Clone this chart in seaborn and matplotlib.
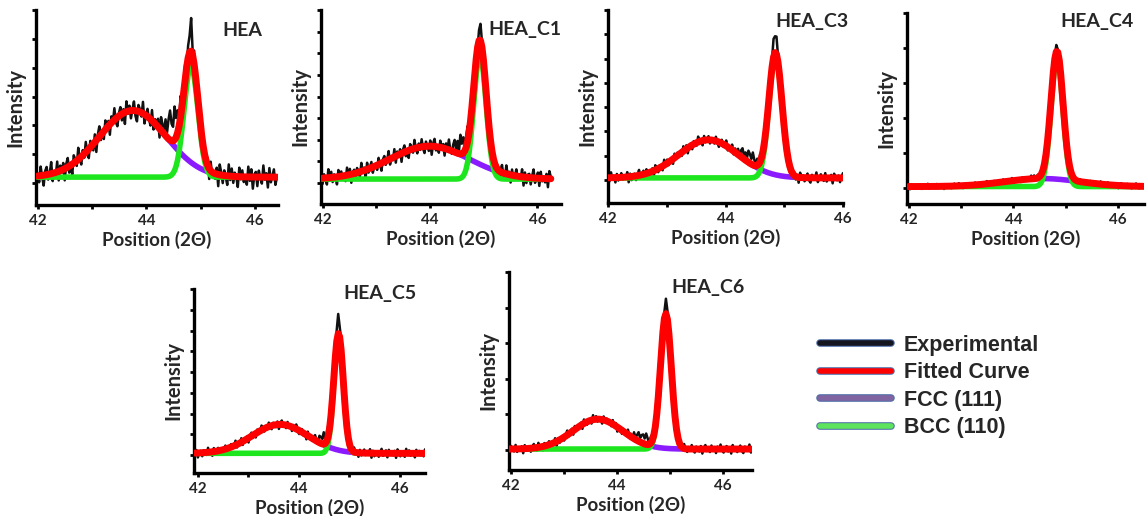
import numpy as np
import pandas as pd
import matplotlib
matplotlib.use("Agg")
import matplotlib.pyplot as plt
import matplotlib.patheffects as pe
from matplotlib.lines import Line2D
import seaborn as sns

# echantillons et parametres de pics (intensite en u.a.)
samples = ['HEA', 'HEA_C1', 'HEA_C3', 'HEA_C4', 'HEA_C5', 'HEA_C6']
x_start = [42.0, 42.0, 42.0, 42.0, 41.95, 41.98]
x_end = [46.40, 46.25, 46.0, 46.48, 46.50, 46.52]
baseline = [6, 4, 2, 1.7, 1.7, 1.0]
fcc_center = [43.75, 43.99, 43.71, 44.55, 43.63, 43.64]
fcc_height = [67, 33, 38, 8, 29, 30]
fcc_fwhm = [1.45, 1.75, 1.2, 1.7, 1.3, 1.1]
bcc_center = [44.82, 44.93, 44.85, 44.83, 44.79, 44.92]
bcc_height = [112, 125, 122, 128, 117, 135]
bcc_fwhm = [0.30, 0.27, 0.26, 0.27, 0.22, 0.24]
# ecarts de la mesure par rapport au fit : epaulement vers 44.5 et pointe au sommet
shoulder_center = [44.50, 44.60, 44.40, 44.50, 44.55, 44.50]
shoulder_height = [22, 12, 8, 2, 8, 8]
spike_height = [22, 11, 19, 5, 16, 13]
noise_scale = [1.3, 0.95, 0.6, 0.3, 0.5, 0.5]
noise_shift = [0, 37, 71, 103, 19, 88]
# bruit de mesure (saisi a la main)
noise = [2, -5, 7, -1, -8, 3, 6, -4, 0, 9, -6, 1, -3, 8, -7, 4, -2, 5, -9, 3,
         7, -5, 1, -8, 6, 2, -4, 9, -1, -6, 4, -3, 8, -2, -7, 5, 0, -5, 6, -9,
         3, 8, -4, 1, -6, 7, -2, 4, -8, 5, -1, 9, -3, -7, 2, 6, -5, 3, -9, 8,
         -2, 4, -6, 1, 7, -4, -8, 5, 2, -3, 9, -7, 0, 6, -1, -5, 8, -6, 3, -2,
         5, -9, 7, 1, -4, 4, -7, 2, 8, -3, -6, 9, -1, 3, -8, 6, -5, 0, 7, -4,
         1, -2, 8, -9, 5, -6, 3, 4, -7, 2, 9, -5, -1, 6, -8, 7, -3, 1, -4, 5,
         -9, 8, 2, -6, 4, -1, -7, 9, -3, 6, -5, 3, 0, -8, 7, -2, 5, -4, 1, -6,
         8, -3, 6, -9, 2, 4, -7, 5, -1, -5, 9, -2, 3, -8, 7, -4, 1, 6, -6, 0]

# mise en page (pixels de la figure 1148x516) et axes
W, H = 1148, 516
boxes = [(36, 278, 10, 205), (321, 561, 10, 204), (608, 843, 10, 203),
         (907, 1144, 13, 204), (194, 425, 289, 473), (509, 752, 272, 470)]
xlims = [(41.97, 46.42), (41.97, 46.44), (42.0, 46.0), (41.97, 46.49), (41.93, 46.5), (41.97, 46.54)]
ylims = [(-22, 174), (-21, 173.6), (-23, 169.4), (-15.7, 175), (-18, 166.4), (-20, 178.5)]
ystep = [29, 21.7, 24.2, 35, 20.8, 35.7]
title_pos = [(242, 30), (525, 30), (812, 22), (1097, 22), (380, 293), (708, 287)]

col_exp, col_fit, col_fcc, col_bcc = '#111111', '#ff0000', '#8b1aff', '#1ee61e'
font = 'Lato'


def gauss(x, c, a, fwhm):
    s = fwhm / 2.3548
    return a * np.exp(-0.5 * ((x - c) / s) ** 2)


sns.set_theme(style='ticks')
plt.rcParams['font.family'] = [font, 'DejaVu Sans']
plt.rcParams['font.weight'] = 'bold'

fig = plt.figure(figsize=(W / 100, H / 100), dpi=100)

for i, name in enumerate(samples):
    l, r, t, b = boxes[i]
    ax = fig.add_axes([l / W, 1 - b / H, (r - l) / W, (b - t) / H])
    x = np.linspace(x_start[i], x_end[i], len(noise))
    fcc = baseline[i] + gauss(x, fcc_center[i], fcc_height[i], fcc_fwhm[i])
    bcc = baseline[i] + gauss(x, bcc_center[i], bcc_height[i], bcc_fwhm[i])
    fit = fcc + bcc - baseline[i]
    exp = (fit + gauss(x, shoulder_center[i], shoulder_height[i], 0.3)
           + gauss(x, bcc_center[i], spike_height[i], 0.09)
           + noise_scale[i] * np.roll(np.array(noise, dtype=float), noise_shift[i]))
    df = pd.DataFrame({'x': x, 'exp': exp, 'fit': fit, 'fcc': fcc, 'bcc': bcc})

    sns.lineplot(data=df, x='x', y='exp', ax=ax, color=col_exp, linewidth=1.8, zorder=1,
                 estimator=None, sort=False)
    sns.lineplot(data=df, x='x', y='fcc', ax=ax, color=col_fcc, linewidth=4.0, zorder=2,
                 estimator=None, sort=False)
    sns.lineplot(data=df, x='x', y='bcc', ax=ax, color=col_bcc, linewidth=4.0, zorder=3,
                 estimator=None, sort=False)
    sns.lineplot(data=df, x='x', y='fit', ax=ax, color=col_fit, linewidth=5.0, zorder=4,
                 estimator=None, sort=False)

    ax.set_xlim(*xlims[i])
    ax.set_ylim(*ylims[i])
    ax.set_xticks([42, 44, 46])
    ax.set_xticks([43, 45], minor=True)
    ax.set_yticks(np.arange(0, ylims[i][1] + 0.5, ystep[i]))
    ax.set_yticklabels([])
    ax.tick_params(which='both', direction='out', length=3, width=2, color='black',
                   labelsize=11, pad=3.5)
    for lab in ax.get_xticklabels():
        lab.set_fontweight('bold')
    for side in ['top', 'right']:
        ax.spines[side].set_visible(False)
    for side in ['left', 'bottom']:
        ax.spines[side].set_linewidth(2.4)
        ax.spines[side].set_color('black')
    ax.set_xlabel('Position (2Θ)', fontsize=13.5, fontweight='bold', labelpad=2)
    ax.set_ylabel('Intensity', fontsize=14.5, fontweight='bold', labelpad=1)
    ax.set_facecolor('none')
    tx, ty = title_pos[i]
    fig.text(tx / W, 1 - ty / H, name, fontsize=14, fontweight='bold',
             ha='center', va='center')

# legende
leg_cols = ['#151520', '#ff0000', '#8064a2', '#5ee35e']
leg_labels = ['Experimental', 'Fitted Curve', 'FCC (111)', 'BCC (110)']
handles = [Line2D([0], [0], color=c, linewidth=4,
                  path_effects=[pe.Stroke(linewidth=5.5, foreground='#4f6fa8'), pe.Normal()])
           for c in leg_cols]
leg = fig.legend(handles, leg_labels, loc='upper left', bbox_to_anchor=(820 / W, 1 - 335 / H),
                 frameon=False, borderpad=0, borderaxespad=0, handlelength=3.3,
                 handletextpad=0.6, labelspacing=0.3,
                 prop={'family': 'Liberation Sans', 'weight': 'bold', 'size': 15.5})

fig.savefig('out.png', dpi=100)
